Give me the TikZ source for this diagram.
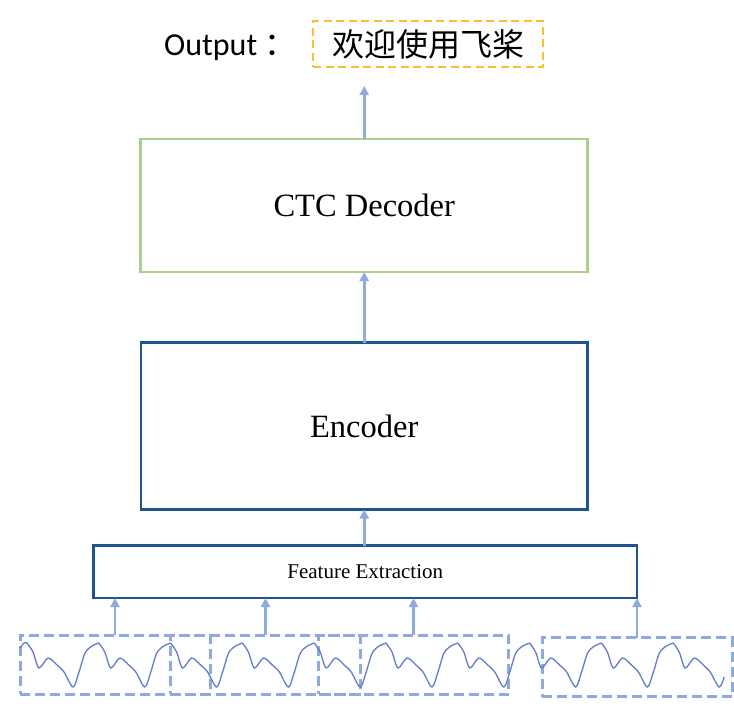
\documentclass[tikz,border=0pt]{standalone}
\usepackage{fontspec}
\setmainfont{Liberation Serif}
\newfontfamily\cjkfont{Noto Sans CJK SC}
\newfontfamily\labelfont{Carlito}
\usetikzlibrary{
    positioning,      % For placing nodes relative to each other (e.g., above=of)
    arrows.meta       % For modern arrow tips (e.g., Triangle)
}
\definecolor{enc_blue}{RGB}{31,84,145}
\definecolor{dec_green}{RGB}{169,208,142}
\definecolor{flow_blue}{RGB}{143,170,220}
\definecolor{wave_blue}{RGB}{98,124,204}
\definecolor{out_orange}{RGB}{255,190,50}

\begin{document}
\begin{tikzpicture}[
    x=1pt, y=-1pt,
    % Style for the solid boxes
    box_style/.style={
        draw,
        outer sep=0pt,
        inner sep=0pt,
        line width=2.7pt
    },
    encoder_box/.style={
        box_style,
        color=enc_blue,
        text=black,
        minimum width=446.5pt,
        minimum height=167pt,
        font=\fontsize{32.5}{38}\selectfont
    },
    decoder_box/.style={
        box_style,
        color=dec_green,
        text=black,
        minimum width=447pt,
        minimum height=133pt,
        font=\fontsize{32.5}{38}\selectfont
    },
    feature_box/.style={
        box_style,
        color=enc_blue,
        text=black,
        minimum width=543.5pt,
        minimum height=52.5pt,
        font=\fontsize{21}{25}\selectfont
    },
    % Style for the dashed output box
    output_box/.style={
        draw=out_orange,
        line width=2.5pt,
        dash pattern=on 8pt off 4.5pt,
        outer sep=0pt,
        minimum width=230pt,
        minimum height=46pt,
        font=\cjkfont\fontsize{32}{38}\selectfont
    },
    % Style for the dashed audio frames
    frame_box/.style={
        draw=flow_blue,
        line width=3pt,
        dash pattern=on 10pt off 5pt,
        outer sep=0pt,
        minimum width=190pt,
        minimum height=59pt
    },
    % Style for the arrows
    flow_arrow/.style={
        draw=flow_blue,
        line width=2.7pt,
        -{Triangle[length=9pt, width=9pt]}
    },
    wave_line/.style={
        draw=wave_blue,
        line width=1.3pt
    }
]
    \useasboundingbox (0,0) rectangle (734,716);

    % 1. Main blocks
    \node[encoder_box] (encoder) at (364.25,426) {Encoder};
    \node[decoder_box, above=70.5pt of encoder] (decoder) {CTC Decoder};
    \node[feature_box, below=36pt of encoder, xshift=1pt] (feature) {Feature Extraction};

    % 2. Output
    \node[output_box] (output) at (428,44) {欢迎使用飞桨};
    \node[anchor=base west, inner sep=0pt] (output_label) at (164,55)
        {\labelfont\fontsize{32}{38}\selectfont Output \cjkfont ：};

    % 3. Audio frames
    \node[frame_box] (frame_a) at (115,664.5) {};
    \node[frame_box] (frame_b) at (265.5,664.5) {};
    \node[frame_box] (frame_c) at (413.5,664.5) {};
    \node[frame_box] (frame_d) at (637,667) {};

    % 4. Waveform, one period per step
    \draw[wave_line] plot[smooth] coordinates {(20,648) (24,643) (27,643)};
    \foreach \k in {0,...,8}
        \draw[wave_line, xshift=\k*71.8pt] plot[smooth] coordinates
            {(27,643) (33,652) (39,668) (48,658) (57,665) (64,672) (73,687)
             (79,672) (85,653) (92,646) (99,643)};
    \draw[wave_line, xshift=9*71.8pt] plot[smooth] coordinates
        {(27,643) (33,652) (39,668) (48,658) (57,665) (64,672) (73,687) (78,677)};

    % 5. Arrows
    \draw[flow_arrow] (encoder.north) -- (decoder.south);
    \draw[flow_arrow] (feature.north -| encoder.south) -- (encoder.south);
    \draw[flow_arrow, shorten >=19pt] (decoder.north) -- (decoder.north |- output.south);
    \foreach \f in {frame_a, frame_b, frame_c, frame_d}
        \draw[flow_arrow] (\f.north) -- (\f.north |- feature.south);

\end{tikzpicture}
\end{document}
